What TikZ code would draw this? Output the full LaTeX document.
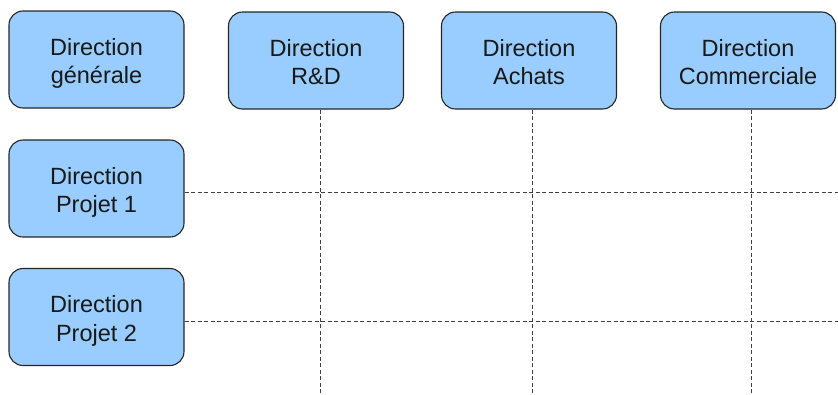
\documentclass[tikz,border=0pt]{standalone}
\usepackage{fontspec}
\setmainfont{Liberation Sans}
\begin{document}
\begin{tikzpicture}[x=1pt,y=-1pt,
  dirbox/.style={draw=black!85, line width=1.1pt, fill=boxblue, rounded corners=14pt,
    minimum width=175pt, minimum height=97pt, inner sep=0pt, align=center,
    text height=48pt, text depth=0pt,
    text=black!90, font=\fontsize{23.5}{28.4}\selectfont},
  gridline/.style={draw=black!75, line width=0.9pt, dash pattern=on 4pt off 2.5pt}]
\definecolor{boxblue}{HTML}{99CCFF}
\useasboundingbox (0,0) rectangle (838,394);
% grid line ends
\coordinate (v1b) at (320,394);
\coordinate (v2b) at (532,394);
\coordinate (v3b) at (751,394);
\coordinate (h1e) at (838,192);
\coordinate (h2e) at (838,321);
\node[dirbox] (dg) at (96.5,59.5) {Direction\\générale};
\node[dirbox] (rd) at (316,60.5) {Direction\\R\&D};
\node[dirbox] (ac) at (529,60.5) {Direction\\Achats};
\node[dirbox] (co) at (748,60.5) {Direction\\Commerciale};
\node[dirbox] (p1) at (96.5,188.5) {Direction\\Projet 1};
\node[dirbox] (p2) at (96.5,317) {Direction\\Projet 2};
\draw[gridline] (rd.south -| v1b) -- (v1b);
\draw[gridline] (ac.south -| v2b) -- (v2b);
\draw[gridline] (co.south -| v3b) -- (v3b);
\draw[gridline] (p1.east |- h1e) -- (h1e);
\draw[gridline] (p2.east |- h2e) -- (h2e);
\end{tikzpicture}
\end{document}
